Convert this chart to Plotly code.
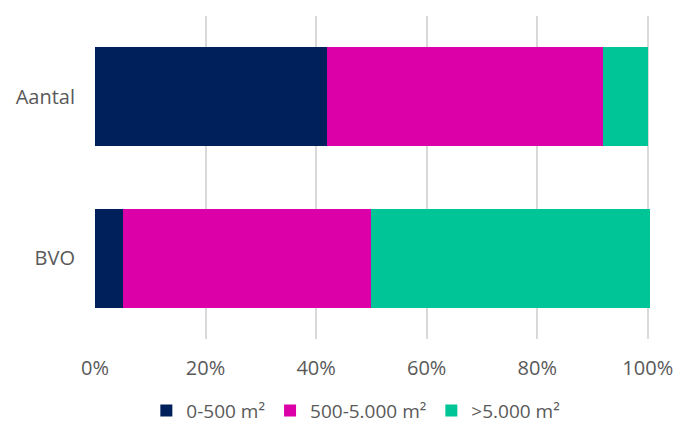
import plotly.graph_objects as go

categories = ["Aantal", "BVO"]
series_names = ["0-500 m²", "500-5.000 m²", ">5.000 m²"]
small = [42.0, 5.1]
medium = [49.9, 44.8]
large = [8.1, 50.5]
colors = ["#00205B", "#DC00A8", "#00C597"]
x_ticks = [0, 20, 40, 60, 80, 100]
x_tick_labels = ["0%", "20%", "40%", "60%", "80%", "100%"]

fig = go.Figure()
for name, vals, col in zip(series_names, [small, medium, large], colors):
    fig.add_trace(go.Bar(
        y=categories, x=vals, name=name, orientation="h",
        marker=dict(color=col, line=dict(width=0)),
        hoverinfo="x+name",
    ))

fig.update_layout(
    barmode="stack",
    bargap=0.39,
    width=686, height=423,
    margin=dict(l=95, r=36, t=16, b=84, autoexpand=False),
    paper_bgcolor="white", plot_bgcolor="white",
    font=dict(family="Open Sans, Noto Sans, sans-serif", size=20, color="#595959"),
    xaxis=dict(
        range=[0, 100.4], tickvals=x_ticks, ticktext=x_tick_labels,
        showgrid=True, gridcolor="#D9D9D9", gridwidth=2,
        zeroline=False, showline=False, ticks="",
        ticklabelstandoff=15,
    ),
    yaxis=dict(
        categoryorder="array", categoryarray=categories, autorange="reversed",
        showgrid=False, zeroline=False, showline=False, ticks="",
        ticklabelstandoff=19,
    ),
    legend=dict(
        orientation="h", x=0.47, xanchor="center", y=-0.222, yanchor="middle",
        font=dict(size=19, color="#595959"),
        itemwidth=30, traceorder="normal",
    ),
)

fig.write_html("out.html")
